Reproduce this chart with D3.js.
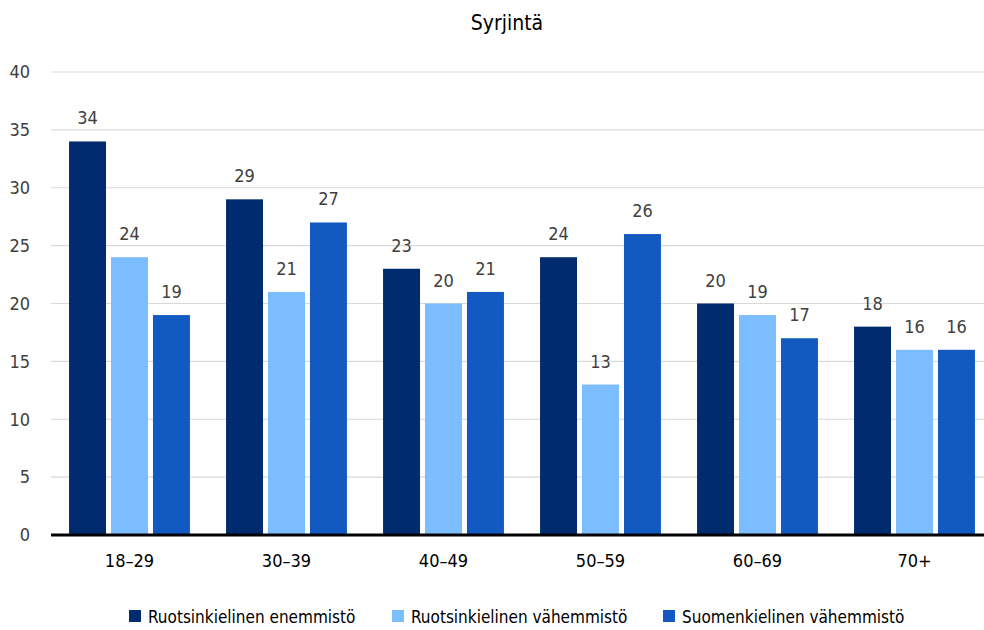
<!DOCTYPE html>
<html>
<head>
<meta charset="utf-8">
<script src="https://cdn.jsdelivr.net/npm/d3@7"></script>
<style>
  body { margin: 0; background: #fff; }
  text { font-family: "DejaVu Sans Condensed", "Liberation Sans Narrow", sans-serif; }
</style>
</head>
<body>
<div id="chart"></div>
<script>
// data
var title = "Syrjintä";
var categories = ["18–29", "30–39", "40–49", "50–59", "60–69", "70+"];
var seriesNames = ["Ruotsinkielinen enemmistö", "Ruotsinkielinen vähemmistö", "Suomenkielinen vähemmistö"];
var enemmisto = [34, 29, 23, 24, 20, 18];
var ruotsVahemmisto = [24, 21, 20, 13, 19, 16];
var suomVahemmisto = [19, 27, 21, 26, 17, 16];
var yTicks = [0, 5, 10, 15, 20, 25, 30, 35, 40];
var colors = ["#002B6E", "#7BBDFF", "#125AC2"];

var seriesValues = [enemmisto, ruotsVahemmisto, suomVahemmisto];

var width = 984, height = 630;
var svg = d3.select("#chart")
    .append("svg")
    .attr("width", width)
    .attr("height", height);

var x0 = d3.scaleBand()
    .domain(categories)
    .range([51, 993])
    .padding(0);

var x1 = d3.scaleBand()
    .domain(d3.range(seriesNames.length))
    .range([0, x0.bandwidth()])
    .paddingInner(0.119)
    .paddingOuter(0.43);

var y = d3.scaleLinear()
    .domain([0, 40])
    .range([535, 72]);

// title
svg.append("text")
    .text(title)
    .attr("x", 507)
    .attr("y", 30)
    .attr("text-anchor", "middle")
    .attr("font-size", 21)
    .attr("fill", "#000");

// gridlines
svg.append("g")
    .selectAll("line")
    .data(yTicks.filter(function(d) { return d > 0; }))
    .enter()
    .append("line")
    .attr("x1", 51)
    .attr("x2", 984)
    .attr("y1", function(d) { return y(d); })
    .attr("y2", function(d) { return y(d); })
    .attr("stroke", "#d9d9d9")
    .attr("stroke-width", 1.2);

// y axis labels
var yAxis = d3.axisLeft(y).tickValues(yTicks).tickSize(0).tickPadding(0);
var gy = svg.append("g").attr("transform", "translate(30,0)").call(yAxis);
gy.select(".domain").remove();
gy.selectAll("text")
    .attr("font-size", 18)
    .attr("fill", "#404040")
    .style("font-family", "'DejaVu Sans Condensed', 'Liberation Sans Narrow', sans-serif");

// bars
var groups = svg.append("g")
    .selectAll("g")
    .data(categories)
    .enter()
    .append("g")
    .attr("transform", function(d) { return "translate(" + x0(d) + ",0)"; });

groups.selectAll("rect")
    .data(function(d, i) { return seriesValues.map(function(s, j) { return { s: j, v: s[i] }; }); })
    .enter()
    .append("rect")
    .attr("x", function(d) { return x1(d.s); })
    .attr("y", function(d) { return y(d.v); })
    .attr("width", x1.bandwidth())
    .attr("height", function(d) { return y(0) - y(d.v); })
    .attr("fill", function(d) { return colors[d.s]; });

// value labels
groups.selectAll("text")
    .data(function(d, i) { return seriesValues.map(function(s, j) { return { s: j, v: s[i] }; }); })
    .enter()
    .append("text")
    .text(function(d) { return d.v; })
    .attr("x", function(d) { return x1(d.s) + x1.bandwidth() / 2; })
    .attr("y", function(d) { return y(d.v) - 17; })
    .attr("text-anchor", "middle")
    .attr("font-size", 18)
    .attr("fill", "#404040");

// baseline
svg.append("line")
    .attr("x1", 51)
    .attr("x2", 984)
    .attr("y1", y(0))
    .attr("y2", y(0))
    .attr("stroke", "#000")
    .attr("stroke-width", 3);

// x axis labels
var xAxis = d3.axisBottom(x0).tickSize(0).tickPadding(0);
var gx = svg.append("g").attr("transform", "translate(0,554)").call(xAxis);
gx.select(".domain").remove();
gx.selectAll("text")
    .attr("font-size", 18)
    .attr("fill", "#000")
    .style("font-family", "'DejaVu Sans Condensed', 'Liberation Sans Narrow', sans-serif");

// legend
var legendX = [129, 392, 663];
var legend = svg.append("g")
    .selectAll("g")
    .data(seriesNames)
    .enter()
    .append("g")
    .attr("transform", function(d, i) { return "translate(" + legendX[i] + ",610)"; });

legend.append("rect")
    .attr("width", 12)
    .attr("height", 12)
    .attr("y", 0)
    .attr("fill", function(d, i) { return colors[i]; });

legend.append("text")
    .text(function(d) { return d; })
    .attr("x", 19)
    .attr("y", 13)
    .attr("font-size", 17)
    .attr("fill", "#000");
</script>
</body>
</html>
